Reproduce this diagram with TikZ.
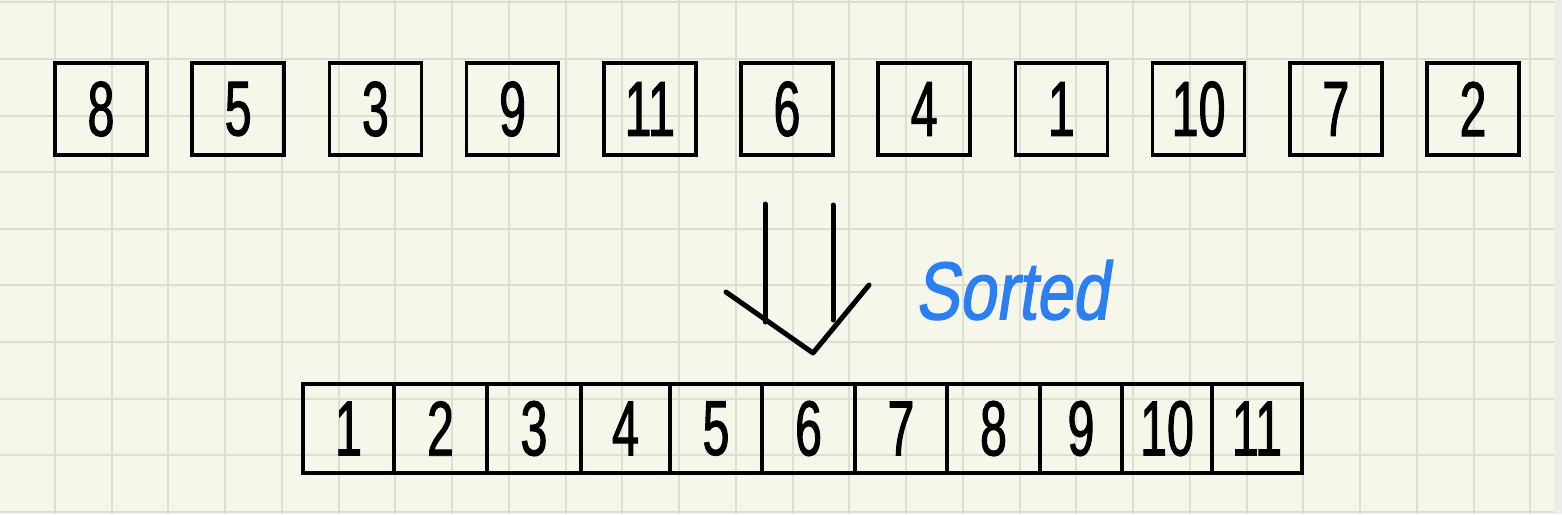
\documentclass[tikz,border=0pt]{standalone}
\usepackage{fontspec}
\newfontfamily\hand[FakeStretch=0.62,FakeBold=1.2]{Liberation Sans}
\newfontfamily\handblue[FakeStretch=0.8,FakeSlant=0.15,FakeBold=1.5]{Liberation Sans}
\definecolor{paper}{HTML}{F6F6EA}
\definecolor{gridc}{HTML}{DFDED2}
\definecolor{edgec}{HTML}{ECECEA}
\definecolor{inkblue}{HTML}{2A7FF2}
\begin{document}
\begin{tikzpicture}[x=1pt,y=-1pt,
  cellbox/.style={draw=black,line width=3.5pt,minimum height=92pt,inner sep=0pt,
    font=\hand\fontsize{78}{78}\selectfont},
  inkline/.style={line width=5pt,line cap=round,line join=round}]
\useasboundingbox (0,0) rectangle (1562,514);
\fill[paper] (0,0) rectangle (1562,514);
\fill[edgec] (1554,0) rectangle (1562,514);
\foreach \k in {0,...,26} \draw[gridc,line width=2pt] ({55+56.74*\k},0) -- ({55+56.74*\k},514);
\foreach \k in {0,...,9} \draw[gridc,line width=2pt] (0,{2.3+56.6*\k}) -- (1554,{2.3+56.6*\k});
% top row
\foreach \v [count=\i from 0] in {8,5,3,9,11,6,4,1,10,7,2}
  \node[cellbox,minimum width=92pt] (t\i) at ({101+137.2*\i},109) {\v};
% sorted row
\foreach \a/\b/\v [count=\i] in {303/394/1,394/487/2,487/581/3,581/670/4,670/762/5,762/855/6,855/947/7,947/1040/8,1040/1122/9,1122/1212/10,1212/1302/11}
  \node[cellbox,minimum width={\b-\a},minimum height=89pt] (s\i) at ({(\a+\b)/2},428.5) {\v};
% arrow
\coordinate (la) at (765,204);
\coordinate (lb) at (765,322);
\coordinate (ra) at (833,205);
\coordinate (rb) at (833,320);
\coordinate (vl) at (726,292);
\coordinate (vm) at (813,353);
\coordinate (vr) at (869,285);
\draw[inkline] (la) -- (lb);
\draw[inkline] (ra) -- (rb);
\draw[inkline] (vl) -- (vm) -- (vr);
\node[text=inkblue,font=\handblue\fontsize{82}{82}\selectfont,anchor=west,inner sep=0pt] (lbl) at (915,290) {Sorted};
\end{tikzpicture}
\end{document}
